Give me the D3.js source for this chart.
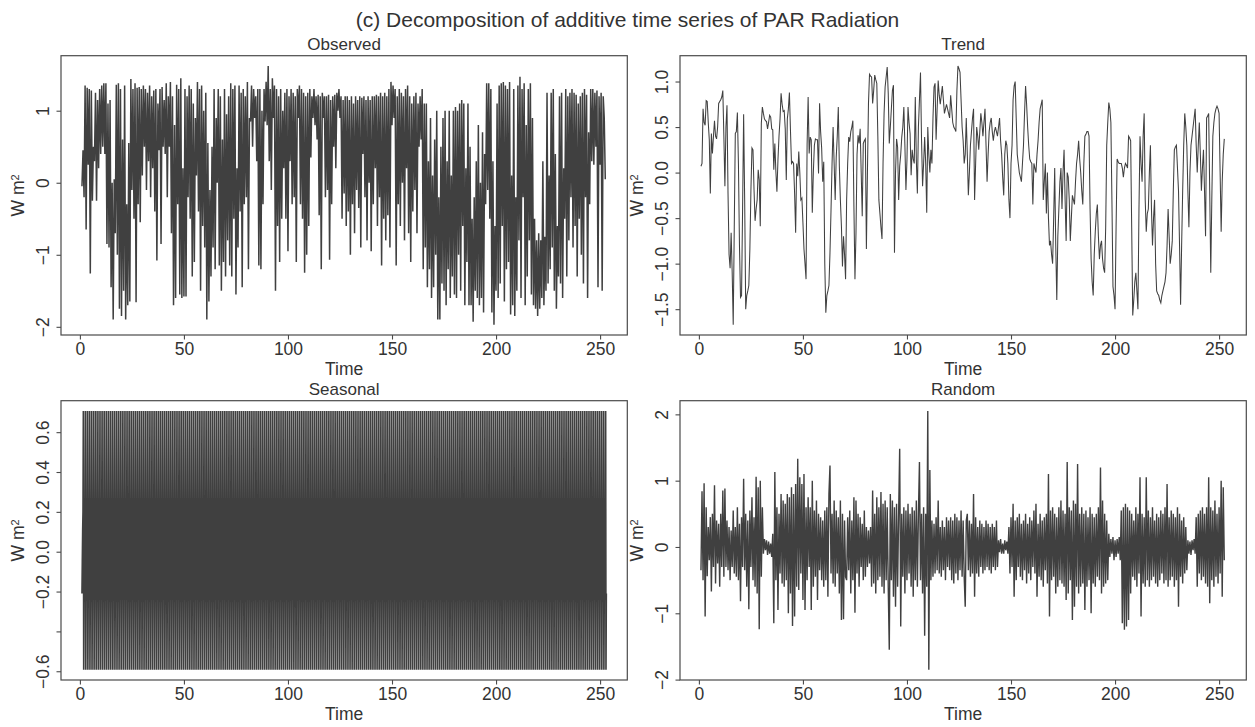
<!DOCTYPE html>
<html>
  <head>
    <meta charset="utf-8">
    <title>Decomposition of additive time series of PAR Radiation</title>
    <script src="https://cdn.jsdelivr.net/npm/d3@7"></script>
    <style>
      body { margin: 0; background: #ffffff; }
      #chart { display: block; font-family: "Liberation Sans", Arial, Helvetica, sans-serif; }
      .frame { fill: none; stroke: #4a4a4a; stroke-width: 1.2; }
      .series { fill: none; stroke: #404040; }
      .axis line { stroke: #4a4a4a; stroke-width: 1.1; }
      .axis text, .label { fill: #333333; }
    </style>
  </head>
  <body>
    <svg id="chart" width="1255" height="727"></svg>

    <script>
      // ---- data ----
      // all series start at time 1; observed/trend/random have two samples per time unit
      timeStart = 1;
      samplesPerUnit = 2;

      // observed: lower and upper value of each time unit
      obsLow = [
        -0.05, -0.20, -0.65, 0.25, -1.26, -0.25, 0.30, -0.25, 0.20, 0.40,
        0.50, 0.40, -0.85, -0.90, -1.45, -1.90, -0.70, -1.00, -1.75, -1.85,
        -1.50, -1.90, -1.70, -1.65, -0.10, -0.50, -1.66, -0.30, -0.55, 0.10,
        0.50, -0.10, 0.30, -0.20, 0.20, -0.40, -1.08, 0.45, -0.85, 0.50,
        0.40, -0.20, 0.50, -0.70, -1.70, -1.60, -0.30, -1.55, -1.60, -1.58,
        -1.58, -0.20, -0.50, -1.30, -1.10, 0.10, -0.40, -1.50, -0.60, -0.90,
        -1.90, -1.65, -1.30, -0.90, -1.20, 0.00, -1.15, -1.50, -1.10, -1.30,
        -0.80, -1.15, -1.30, -0.50, -1.55, -0.90, -0.40, -1.45, -0.30, -0.20,
        -1.20, 0.85, 0.50, 0.90, 0.30, -1.15, -1.20, -0.30, 0.85, 0.80,
        0.30, -0.10, 0.90, -1.50, -0.60, -1.10, -0.50, 0.20, -0.50, -0.95,
        0.30, -0.30, -0.20, -1.10, 0.90, -0.30, -0.50, -1.25, -1.00, -0.60,
        0.35, 0.90, 0.80, 0.60, -0.45, -1.20, 0.90, -0.20, -0.10, -1.07,
        -0.30, 0.50, 0.20, 1.00, 0.90, -0.50, -0.15, -0.60, -0.40, -1.00,
        -0.30, -0.70, -0.10, -0.35, -0.90, 0.40, -0.20, -0.80, 0.00, -0.95,
        -0.30, 0.20, -0.60, -0.20, -1.15, -0.50, -0.80, -0.45, -0.90, 0.80,
        0.90, -1.15, -0.30, -0.60, 0.00, -0.80, 0.20, -0.70, -1.10, -0.40,
        -0.10, -0.70, 0.50, 0.60, -1.20, -0.90, -1.45, -1.20, -1.60, -1.45,
        -1.00, -1.90, -1.90, -1.40, -1.50, -1.70, -1.20, -1.60, -1.30, -1.55,
        -1.60, -1.00, -1.50, -0.60, -1.70, -1.10, -1.70, -1.70, -1.93, -1.50,
        -1.60, -1.70, -1.60, -1.80, -0.30, -0.10, -0.50, -1.80, -1.97, -1.50,
        -1.60, -1.40, -0.60, -1.65, -1.20, -1.10, -1.83, -1.70, -1.85, -1.50,
        -0.80, -1.60, -0.20, -1.70, -1.30, -0.80, -1.55, -1.70, -1.75, -1.85,
        -1.75, -1.60, -1.70, -1.50, -1.40, -1.20, -0.90, -1.50, -1.75, -1.30,
        -1.40, -1.60, -0.50, -1.30, -0.80, -0.20, -0.90, -0.60, -1.30, -0.50,
        -1.00, -1.40, -0.20, -1.60, -0.30, 0.30, 0.25, 0.50, -1.45, 0.25,
        -1.50, 0.90
      ];
      obsHigh = [
        0.45, 1.35, 1.32, 1.30, 1.28, 0.50, 1.25, 1.15, 1.30, 1.35,
        1.38, 1.38, 1.10, 1.15, 0.00, 0.05, 1.36, 1.38, 1.30, 0.60,
        1.35, -0.30, 0.55, 1.44, 1.30, 1.38, 1.32, 1.33, 1.30, 1.35,
        1.30, 1.25, 1.35, 1.20, 1.28, 1.30, 1.10, 1.30, 1.33, 1.15,
        1.38, 1.20, 1.40, 1.20, 0.80, 1.36, 1.30, 1.45, 0.20, 1.30,
        1.20, 1.35, 1.30, 1.10, 0.90, 1.40, 1.30, 1.35, 1.00, 1.25,
        0.55, -0.10, 0.50, 1.30, 0.90, 1.30, 1.20, 0.60, 1.30, 0.95,
        1.20, 1.38, 1.30, 1.35, 0.20, 1.35, 1.25, 1.30, 1.20, 1.40,
        0.90, 1.35, 1.30, 1.20, 1.30, 1.30, 1.00, 1.30, 1.40, 1.62,
        1.30, 1.45, 1.35, 1.30, 1.20, 1.30, 1.00, 1.25, 1.30, 1.20,
        1.30, 1.25, 1.20, 1.30, 1.35, 1.30, 1.25, 1.20, 1.25, 1.30,
        1.20, 1.30, 1.20, 1.22, 1.20, 1.25, 1.20, 1.20, 1.22, 1.15,
        1.20, 1.22, 1.25, 1.30, 1.20, 1.15, 1.20, 1.20, 1.15, 1.20,
        1.10, 1.20, 1.15, 1.20, 1.18, 1.20, 1.15, 1.20, 1.15, 1.20,
        1.20, 1.22, 1.20, 1.25, 1.20, 1.25, 1.20, 1.30, 1.40, 1.35,
        1.30, 1.20, 1.30, 1.25, 1.20, 1.30, 1.35, 1.20, 1.10, 1.20,
        1.25, 1.10, 1.20, 1.30, 1.10, 1.10, 0.30, 0.90, 0.10, 0.60,
        1.00, -0.20, 0.50, 0.90, 1.00, 0.30, 1.00, 0.10, 1.00, 1.05,
        1.00, 1.10, 1.15, 1.10, 0.20, 1.10, 0.50, -0.50, -0.20, 0.30,
        0.80, 0.00, 0.70, 0.40, 1.38, 1.38, 1.30, 0.30, -0.60, 1.10,
        1.35, 1.38, 1.40, 1.35, 1.30, 1.40, 0.10, 1.30, -0.20, 1.35,
        1.47, 1.30, 1.38, 0.80, 1.30, 1.38, 0.90, -0.50, -0.80, -0.70,
        -0.80, 0.30, -0.75, 1.25, 0.10, 1.25, 1.30, 0.40, -0.60, 1.20,
        1.25, 0.20, 1.30, 1.20, 1.25, 1.30, 1.25, 1.22, 1.10, 1.20,
        1.25, 1.30, 1.22, 0.70, 1.30, 1.30, 1.25, 1.28, 1.20, 1.25,
        1.20, 0.05
      ];

      // trend, two samples per time unit
      trend = [
        0.07, 0.10, 0.70, 0.55, 0.52, 0.79, 0.78, 0.55, 0.36, -0.23, 0.43, 0.21, 0.40, 0.57, 0.40, 0.37, 0.50, 0.76, 0.78, 0.80,
        0.83, 0.90, 0.40, -0.15, 0.50, 0.74, -0.23, -0.90, -1.05, -0.66, -1.10, -1.67, -0.60, 0.43, 0.45, 0.66, 0.10, -0.80, -1.37, -1.35,
        -0.40, 0.64, -0.30, -1.50, -1.35, -1.30, -1.24, -0.84, -0.20, 0.27, 0.25, -0.19, -0.53, -0.40, -0.30, 0.03, -0.08, -0.59, 0.54, 0.72,
        0.65, 0.59, 0.57, 0.56, 0.48, 0.55, 0.63, 0.61, 0.48, 0.47, 0.03, 0.32, 0.01, -0.21, 0.14, 0.40, 0.59, 0.87, 0.75, 0.67,
        0.68, 0.48, -0.08, 0.59, 0.70, 0.88, 0.47, 0.10, 0.12, 0.10, -0.23, -0.66, 0.10, -0.04, 0.23, 0.00, -0.30, -0.28, -0.55, -0.84,
        -1.00, -1.17, 0.30, 0.83, 0.21, 0.39, 0.36, -0.44, 0.00, 0.30, 0.37, 0.36, 0.36, -0.01, 0.76, 0.45, 0.27, -0.10, 0.12, -1.00,
        -1.54, -1.35, -1.30, -1.24, -0.88, -0.41, 0.10, 0.50, 0.10, -0.30, 0.17, 0.40, 0.72, 0.07, -0.30, -0.59, -1.03, -0.70, -0.90, -1.17,
        -0.30, 0.10, 0.39, 0.34, 0.45, 0.50, 0.57, -0.37, -1.17, -0.66, 0.20, 0.41, 0.32, 0.48, 0.00, -0.48, 0.32, 0.35, 0.37, -0.84,
        0.00, 0.76, 1.08, 1.06, 1.05, 0.76, 0.90, 1.07, 1.02, 0.98, 0.40, -0.30, -0.45, -0.60, -0.73, 0.10, 0.65, 0.94, 1.05, 1.16,
        0.87, 0.32, 0.50, 0.70, 0.90, 0.96, -0.88, 0.00, 0.37, 0.28, -0.30, 0.07, 0.20, 0.39, 0.50, 0.72, 0.30, -0.19, 0.14, 0.72,
        0.55, 0.43, -0.03, 0.25, 0.15, 0.10, 0.83, 0.14, -0.23, 0.50, 0.80, 1.10, 0.36, -0.15, 0.10, 0.39, 0.10, -0.44, 0.50, 0.20,
        0.00, 0.25, 0.10, 0.60, 0.94, 0.98, 0.36, 0.70, 1.01, 0.85, 0.75, 0.85, 0.95, 0.80, 0.65, 0.70, 0.75, 0.70, 0.65, 0.60,
        0.85, 0.70, 0.55, 0.50, 0.48, 0.45, 0.90, 1.17, 1.14, 1.10, 0.80, 0.50, 0.35, 0.10, 0.20, 0.60, 0.20, -0.25, 0.00, 0.30,
        0.45, 0.60, 0.70, -0.30, 0.10, 0.50, 0.40, 0.25, 0.45, 0.65, 0.55, 0.40, 0.55, 0.70, 0.30, -0.10, 0.20, 0.45, 0.55, 0.60,
        0.45, 0.35, 0.45, 0.50, 0.45, 0.40, 0.50, 0.60, 0.35, 0.20, -0.05, -0.25, 0.20, 0.35, 0.30, 0.10, -0.30, -0.50, 0.10, 0.30,
        0.80, 0.95, 1.00, 0.60, 0.20, 0.10, 0.00, -0.05, -0.10, 0.10, 0.30, 0.65, 0.95, 0.75, 0.50, 0.30, 0.15, 0.12, 0.10, -0.35,
        0.10, 0.05, 0.00, 0.20, 0.35, 0.55, 0.70, 0.75, 0.80, -0.30, -0.10, 0.10, -0.45, 0.00, -0.50, -0.80, -0.75, -0.90, -1.00, -0.50,
        0.05, -0.80, -1.40, -0.70, -0.40, -0.10, 0.05, -0.40, 0.00, 0.25, -0.30, -0.75, 0.00, -0.05, -0.30, -0.75, -0.50, -0.25, -0.30, -0.35,
        -0.10, 0.10, 0.20, 0.35, 0.15, 0.00, -0.20, -0.35, 0.10, 0.40, 0.42, 0.45, 0.45, 0.40, -0.40, -0.95, -1.20, -1.35, -0.90, -0.65,
        -0.45, -0.35, -0.70, -0.95, -0.80, -0.75, -0.95, -1.05, -1.10, -0.60, 0.30, 0.55, 0.77, 0.70, 0.55, -0.30, -1.25, -1.35, -1.50, -0.60,
        0.15, 0.12, 0.10, 0.10, 0.10, 0.05, -0.05, 0.05, 0.10, 0.08, 0.05, 0.40, 0.38, 0.35, -0.60, -1.57, -1.40, -1.20, -1.10, -1.30,
        -1.50, -0.40, 0.40, 0.10, -0.10, 0.40, 0.65, -0.30, -0.65, -0.45, -0.40, 0.00, 0.30, -0.40, -0.80, -0.50, -0.30, -1.00, -1.30, -1.33,
        -1.35, -1.40, -1.43, -1.35, -1.30, -1.25, -1.20, -1.10, -0.80, -0.40, -0.70, -1.00, -0.90, -0.75, -0.20, 0.25, 0.28, 0.30, 0.05, -0.20,
        -0.80, -1.45, -0.80, -0.20, 0.30, 0.65, 0.50, 0.30, -0.20, -0.60, 0.00, 0.30, 0.40, 0.50, 0.60, 0.70, 0.30, 0.00, 0.30, 0.55,
        0.20, -0.20, 0.05, 0.25, -0.20, -0.70, 0.60, 0.62, 0.65, -0.20, -1.10, -0.30, 0.40, 0.55, 0.65, 0.70, 0.73, 0.70, 0.65, 0.00,
        -0.65, -0.10, 0.20, 0.37
      ];

      // seasonal: one period of the repeating figure, six samples per time unit
      seasonalPattern = [-0.21, -0.05, 0.10, 0.20, 0.706, -0.592];
      seasonalPerUnit = 6;
      seasonalCount = 1513;

      // random, two samples per time unit
      random = [
        -0.35, 0.84, -0.50, 0.96, -1.05, 0.60, -0.44, 0.30, -0.20, 0.45, -0.67, 0.50, -0.30, 0.93, -0.55, 0.40, -0.25, 0.35, -0.60, 0.50,
        -0.30, 0.85, -0.45, 0.88, -0.30, 0.40, -0.35, 0.30, -0.50, 0.25, -0.30, 0.55, -0.40, 0.30, -0.45, 0.60, -0.50, 0.35, -0.82, 0.45,
        -0.30, 1.03, -0.35, 0.50, -0.60, 0.40, -0.94, 0.55, -0.30, 0.75, -0.50, 0.45, -0.60, 1.06, -0.70, 0.90, -1.24, 1.00, -0.45, 0.60,
        -0.10, 0.12, -0.05, 0.10, -0.12, 0.08, -0.10, 0.05, -0.15, 0.20, -1.15, 1.13, -0.50, 0.60, -0.95, 0.50, -0.40, 0.80, -0.55, 0.70,
        -0.60, 0.65, -0.50, 0.80, -1.00, 0.75, -0.70, 0.90, -1.19, 0.80, -1.05, 0.95, -0.60, 1.33, -0.65, 1.05, -0.40, 0.95, -0.80, 1.10,
        -0.95, 0.60, -0.50, 0.75, -0.30, 0.60, -0.95, 1.00, -0.60, 0.55, -0.45, 0.70, -0.80, 0.50, -0.35, 0.45, -0.50, 0.40, -0.60, 0.55,
        -0.50, 0.60, -0.75, 0.80, 1.23, -0.40, 0.50, -0.55, 0.70, -0.60, 0.55, -0.40, 0.45, -0.70, 0.70, -1.10, 0.50, -1.09, 0.40, -0.45,
        -0.50, 0.45, -0.35, 0.55, -0.70, 0.40, -0.50, 0.75, -0.99, 0.70, -0.40, 0.50, -0.60, 0.45, -0.30, 0.35, -0.50, 0.55, -0.45, 0.30,
        -0.30, 0.25, -0.25, 0.30, -0.60, 0.85, -0.55, 0.50, -0.70, 0.75, -0.50, 0.60, -0.45, 0.83, -0.60, 0.65, -0.70, 0.70, -0.50, 0.60,
        -0.60, -1.55, 0.80, -0.50, 0.70, -0.75, 0.60, -0.90, 0.65, -0.60, 0.50, 1.48, -1.20, 0.50, -0.45, 0.60, -0.70, 0.55, -0.50, 0.65,
        -0.40, 0.50, -0.60, 0.60, -0.75, 0.55, -0.50, 0.70, -0.60, 0.50, 1.28, -0.50, 0.50, -0.70, 0.60, -1.34, 0.50, -0.60, 2.05, -1.85,
        1.16, -0.50, 0.40, -0.45, 0.35, -0.40, 0.45, -0.35, 0.70, -0.40, 0.30, -0.45, 0.40, -0.35, 0.30, -0.50, 0.45, -0.30, 0.40, -0.35,
        0.45, -0.50, 0.40, -0.55, 0.50, -0.40, 0.45, -0.50, 0.40, -0.35, 0.55, -0.45, 0.40, -0.45, -0.90, 0.40, 0.50, -0.35, 0.40, -0.45,
        0.35, -0.40, 0.80, -0.75, 0.45, -0.40, 0.30, -0.45, 0.40, -0.30, 0.35, -0.40, 0.30, -0.35, 0.40, -0.30, 0.35, -0.35, 0.30, -0.40,
        0.35, -0.30, 0.30, -0.35, 0.40, -0.30, 0.10, -0.08, 0.12, -0.10, 0.05, -0.10, 0.10, -0.05, 0.08, -0.10, 0.30, -0.40, 0.45, -0.30,
        0.65, -0.75, 0.40, -0.50, 0.45, -0.30, 0.50, -0.45, 0.35, -0.50, 0.40, -0.35, 0.50, -0.55, 0.35, -0.40, 0.45, -0.50, 0.40, -0.30,
        0.55, -0.40, 0.65, -0.75, 0.35, -0.45, 0.50, -0.50, 0.40, -0.60, 0.45, -0.35, 0.50, -0.55, 1.10, -1.05, 0.55, -0.50, 0.60, -0.45,
        0.50, -0.70, 0.45, -0.60, 0.60, -0.50, 0.70, -0.55, 0.55, -0.60, 0.50, -0.80, 1.28, -0.70, 0.60, -0.50, 0.55, -1.10, 0.70, -0.90,
        0.65, -0.60, 1.25, -0.70, 0.50, -0.60, 0.60, -0.55, 0.50, -0.95, 0.55, -0.60, 0.45, -0.50, 0.60, -1.00, 0.50, -0.55, 0.45, -0.60,
        0.50, -0.45, 0.60, -0.50, 1.20, -0.70, 0.70, -0.60, 0.50, -0.55, 0.40, -0.50, 0.20, -0.15, 0.12, -0.10, 0.15, -0.20, 0.10, -0.15,
        0.12, -0.10, 0.15, -0.20, 0.55, -1.15, 0.60, -1.25, 0.65, -1.20, 0.60, -1.10, 0.55, -0.70, 0.50, -0.45, 0.40, -0.50, 0.60, -0.60,
        0.50, -0.40, 1.05, -1.05, 0.50, -0.55, 0.45, -0.60, 1.05, -0.50, 0.55, -0.60, 0.45, -0.50, 0.60, -0.45, 0.40, -0.55, 0.50, -0.60,
        0.45, -0.50, 0.55, -0.40, 0.50, -0.55, 0.60, -0.50, 0.95, -0.60, 0.45, -0.50, 0.55, -0.45, 0.50, -0.60, 0.45, -0.50, 0.60, -0.90,
        0.50, -0.45, 0.40, -0.55, 0.45, -0.40, 0.30, -0.35, 0.10, -0.10, 0.08, -0.12, 0.10, -0.05, 0.12, -0.10, 0.45, -0.60, 0.50, -0.40,
        0.55, -0.50, 0.60, -0.45, 0.50, -0.55, 0.60, -0.60, 1.05, -0.85, 0.60, -0.50, 0.55, -0.60, 0.70, -0.45, 0.50, -0.55, 0.60, -0.40,
        1.00, -0.75, 0.90, -0.20
      ];

      // axes
      timeTicks = [0, 50, 100, 150, 200, 250];
      observedTicks = [-2, -1, 0, 1];
      observedTickLabels = ["\u22122", "\u22121", "0", "1"];
      trendTicks = [-1.5, -1, -0.5, 0, 0.5, 1];
      trendTickLabels = ["\u22121.5", "\u22121.0", "\u22120.5", "0.0", "0.5", "1.0"];
      seasonalTicks = [-0.6, -0.4, -0.2, 0, 0.2, 0.4, 0.6];
      seasonalTickLabels = ["\u22120.6", "", "\u22120.2", "0.0", "0.2", "0.4", "0.6"];
      randomTicks = [-2, -1, 0, 1, 2];
      randomTickLabels = ["\u22122", "\u22121", "0", "1", "2"];

      // ---- build series ----
      observed = [];
      obsLow.forEach((v, i) => observed.push(v, obsHigh[i]));
      seasonal = d3.range(seasonalCount).map(i => seasonalPattern[i % seasonalPattern.length]);

      function toPoints(values, perUnit) {
        return values.map((v, i) => ({ t: timeStart + i / perUnit, v: v }));
      }

      // R-style axis range: data range padded by 4%
      function padded(extent) {
        let d = extent[1] - extent[0];
        return [extent[0] - 0.04 * d, extent[1] + 0.04 * d];
      }

      panels = [
        { title: "Observed", points: toPoints(observed, samplesPerUnit), ticks: observedTicks, labels: observedTickLabels, left: 61, top: 55.7, width: 1.5 },
        { title: "Trend", points: toPoints(trend, samplesPerUnit), ticks: trendTicks, labels: trendTickLabels, left: 680, top: 55.7, width: 1.05 },
        { title: "Seasonal", points: toPoints(seasonal, seasonalPerUnit), ticks: seasonalTicks, labels: seasonalTickLabels, left: 61, top: 400.7, width: 1.65 },
        { title: "Random", points: toPoints(random, samplesPerUnit), ticks: randomTicks, labels: randomTickLabels, left: 680, top: 400.7, width: 1.4 }
      ];

      plotWidth = 566.3;
      plotHeight = 279.3;
      tickFont = "17.5px";

      allTimes = panels.flatMap(p => p.points.map(d => d.t));
      x = d3.scaleLinear()
        .domain(padded(d3.extent(allTimes)))
        .range([0, plotWidth]);

      chart = d3.select("#chart");

      chart.append("text")
        .attr("class", "label")
        .attr("x", 627.5)
        .attr("y", 27)
        .attr("text-anchor", "middle")
        .style("font-size", "21px")
        .text("(c) Decomposition of additive time series of PAR Radiation");

      panels.forEach(p => {
        let g = chart.append("g")
          .attr("transform", "translate(" + p.left + "," + p.top + ")");

        let y = d3.scaleLinear()
          .domain(padded(d3.extent(p.points, d => d.v)))
          .range([plotHeight, 0]);

        let line = d3.line()
          .x(d => x(d.t))
          .y(d => y(d.v));

        g.append("path")
          .datum(p.points)
          .attr("class", "series")
          .style("stroke-width", p.width)
          .attr("d", line);

        g.append("rect")
          .attr("class", "frame")
          .attr("width", plotWidth)
          .attr("height", plotHeight);

        // x axis
        let xAxis = g.append("g")
          .attr("class", "axis")
          .attr("transform", "translate(0," + plotHeight + ")")
          .call(d3.axisBottom(x).tickValues(timeTicks).tickSize(4.5).tickPadding(3.1).tickFormat(d3.format("d")));
        xAxis.select(".domain").remove();
        xAxis.selectAll("text")
          .style("font-size", tickFont)
          .style("font-family", "Liberation Sans, Arial, sans-serif");

        // y axis with labels parallel to the axis
        let yAxis = g.append("g")
          .attr("class", "axis")
          .call(d3.axisLeft(y).tickValues(p.ticks).tickSize(4.5).tickFormat((d, i) => p.labels[i]));
        yAxis.select(".domain").remove();
        yAxis.selectAll("text")
          .attr("transform", "rotate(-90)")
          .attr("x", 0)
          .attr("y", -11.7)
          .attr("dy", 0)
          .attr("text-anchor", "middle")
          .style("font-size", tickFont)
          .style("font-family", "Liberation Sans, Arial, sans-serif");

        // titles
        g.append("text")
          .attr("class", "label")
          .attr("x", plotWidth / 2)
          .attr("y", -6)
          .attr("text-anchor", "middle")
          .style("font-size", "17px")
          .text(p.title);

        g.append("text")
          .attr("class", "label")
          .attr("x", plotWidth / 2)
          .attr("y", plotHeight + 40.5)
          .attr("text-anchor", "middle")
          .style("font-size", tickFont)
          .text("Time");

        let yLabel = g.append("text")
          .attr("class", "label")
          .attr("transform", "translate(-37," + (plotHeight / 2) + ") rotate(-90)")
          .attr("text-anchor", "middle")
          .style("font-size", tickFont);
        yLabel.append("tspan").text("W m");
        yLabel.append("tspan")
          .attr("dy", "-0.45em")
          .style("font-size", "11px")
          .text("2");
      });
    </script>
  </body>
</html>
